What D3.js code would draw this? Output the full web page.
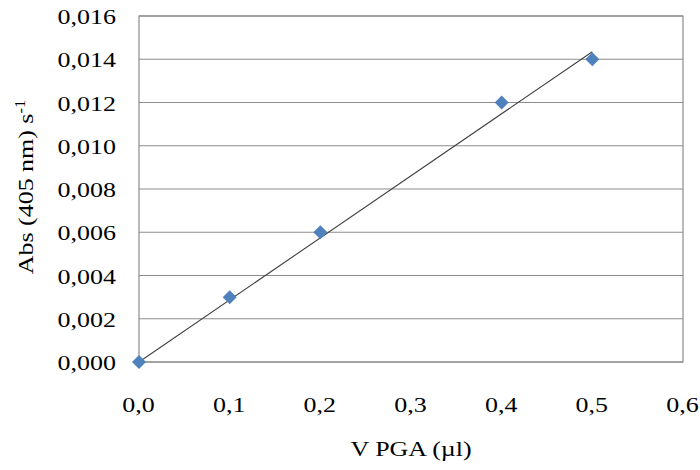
<!DOCTYPE html>
<html><head><meta charset="utf-8">
<script src="https://cdn.jsdelivr.net/npm/d3@7"></script>
<style>body{margin:0;background:#fff}svg{display:block}text{font-family:"Liberation Serif","Times New Roman",serif;fill:#000}</style>
</head><body>
<script>
const xValues = [0, 0.1, 0.2, 0.4, 0.5];
const yValues = [0, 0.003, 0.006, 0.012, 0.014];
const trendX = [0, 0.5];
const trendY = [0, 0.01435];
const xTicks = [0, 0.1, 0.2, 0.3, 0.4, 0.5, 0.6];
const yTicks = [0, 0.002, 0.004, 0.006, 0.008, 0.010, 0.012, 0.014, 0.016];
const xTitle = "V PGA (µl)";

const W = 700, H = 470;
const m = {l:139, r:17, t:16, b:108};
const sx = 1.18, fs = 22;
const svg = d3.select("body").append("svg").attr("width", W).attr("height", H);
const x = d3.scaleLinear().domain([0, 0.6]).range([m.l, W - m.r]);
const y = d3.scaleLinear().domain([0, 0.016]).range([H - m.b, m.t]);
const fmtX = d => d3.format(".1f")(d).replace(".", ",");
const fmtY = d => d3.format(".3f")(d).replace(".", ",");

// gridlines
svg.append("g").selectAll("line").data(yTicks).join("line")
  .attr("x1", x(0)).attr("x2", x(0.6)).attr("y1", d => y(d)).attr("y2", d => y(d))
  .attr("stroke", "#8c8c8c").attr("stroke-width", 1.2);
// frame
svg.append("rect").attr("x", x(0)).attr("y", y(0.016)).attr("width", x(0.6) - x(0)).attr("height", y(0) - y(0.016))
  .attr("fill", "none").attr("stroke", "#8c8c8c").attr("stroke-width", 1.2);

// axes (labels only)
const gy = svg.append("g").attr("transform", `translate(${x(0)},0)`)
  .call(d3.axisLeft(y).tickValues(yTicks).tickFormat(fmtY).tickSize(0).tickPadding(0));
gy.select(".domain").remove();
gy.selectAll("text").attr("x", 0).attr("dy", null).attr("y", 0)
  .attr("transform", `translate(-23,7.5) scale(${sx},1)`).style("font-size", fs + "px")
  .style("font-family", '"Liberation Serif",serif').attr("fill", "#000");

const gx = svg.append("g").attr("transform", `translate(0,${y(0)})`)
  .call(d3.axisBottom(x).tickValues(xTicks).tickFormat(fmtX).tickSize(0).tickPadding(0));
gx.select(".domain").remove();
gx.selectAll("text").attr("y", 0).attr("dy", null)
  .attr("transform", `translate(-1,49.5) scale(${sx},1)`).style("font-size", fs + "px")
  .style("font-family", '"Liberation Serif",serif').attr("fill", "#000");

// trendline
svg.append("line")
  .attr("x1", x(trendX[0])).attr("y1", y(trendY[0]))
  .attr("x2", x(trendX[1])).attr("y2", y(trendY[1]))
  .attr("stroke", "#404040").attr("stroke-width", 1.1);

// markers (diamonds)
const r = 7;
svg.append("g").selectAll("path").data(xValues.map((v, i) => [v, yValues[i]])).join("path")
  .attr("d", d => `M${x(d[0])},${y(d[1]) - r}L${x(d[0]) + r},${y(d[1])}L${x(d[0])},${y(d[1]) + r}L${x(d[0]) - r},${y(d[1])}Z`)
  .attr("fill", "#4f81bd");

// x title
svg.append("text").attr("transform", `translate(${(x(0) + x(0.6)) / 2},456) scale(${sx},1)`)
  .attr("text-anchor", "middle").style("font-size", fs + "px").text(xTitle);

// y title
const yt = svg.append("text").attr("transform", `translate(33,${187}) rotate(-90) scale(${sx},1)`)
  .attr("text-anchor", "middle").style("font-size", fs + "px");
yt.append("tspan").text("Abs (405 nm) s");
yt.append("tspan").attr("dy", -8).style("font-size", "14px").text("-1");
</script>
</body></html>
